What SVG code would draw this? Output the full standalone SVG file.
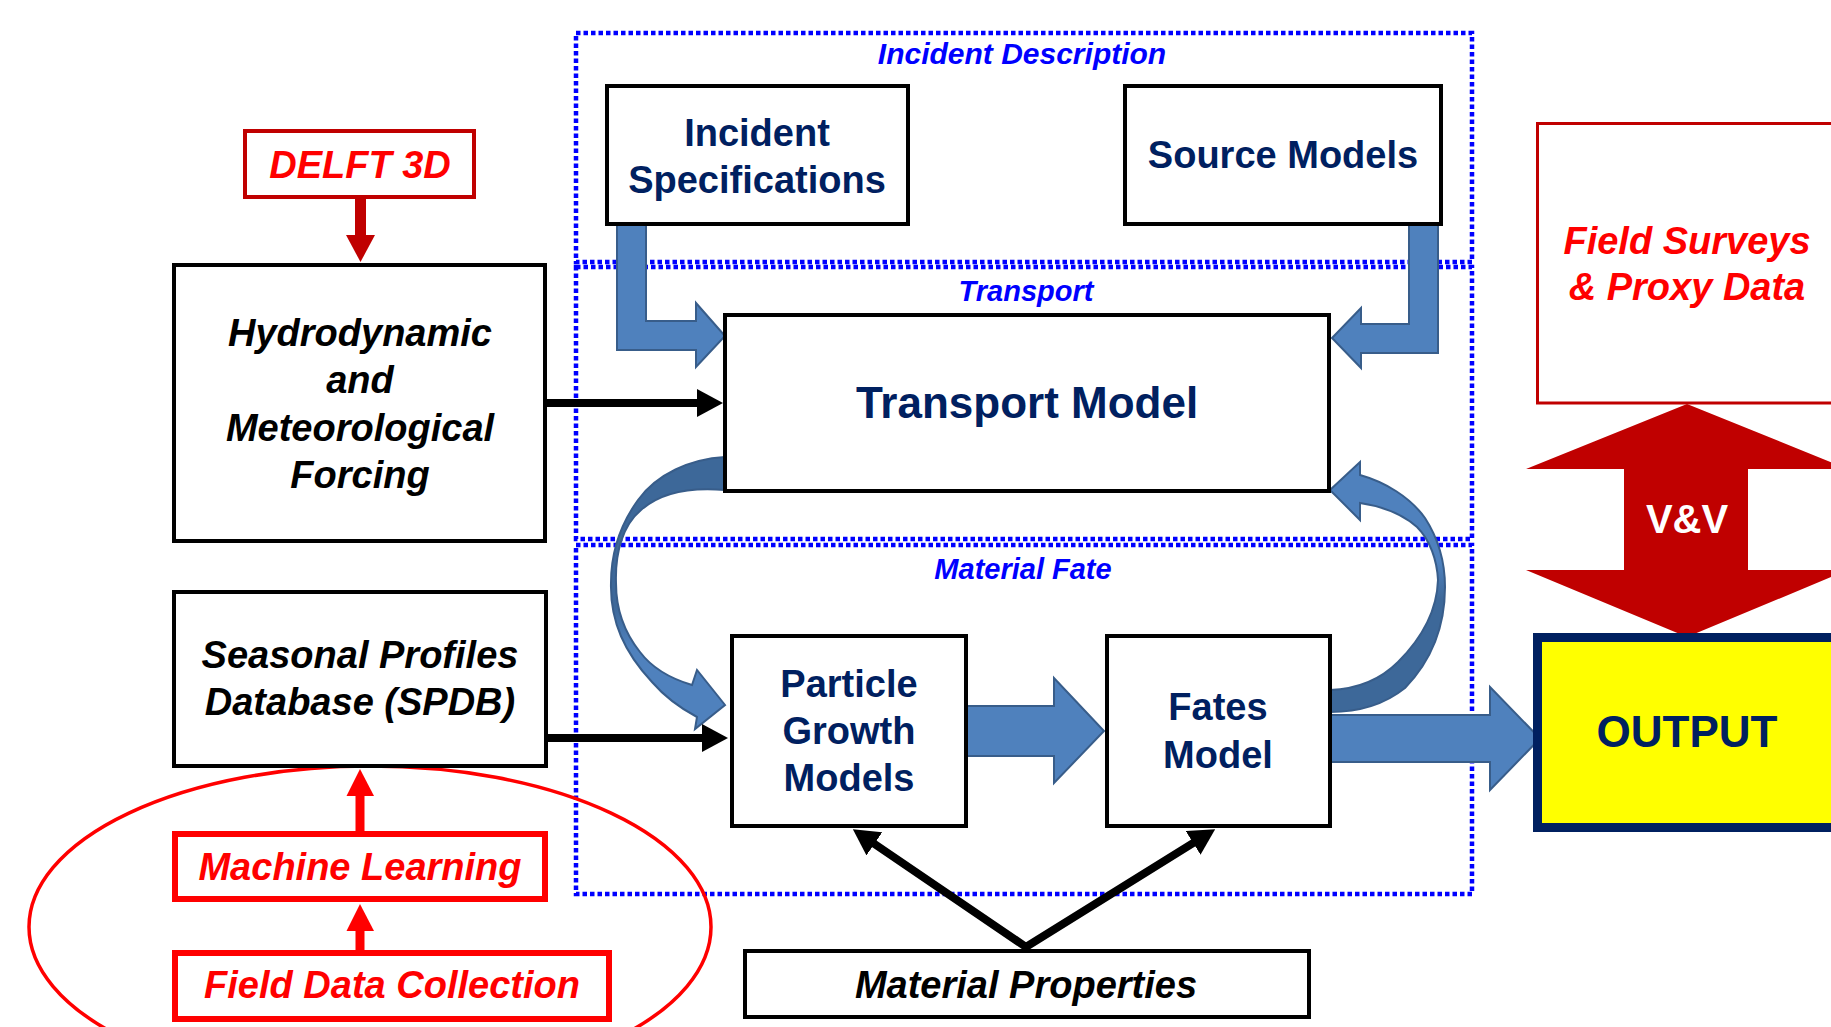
<svg xmlns="http://www.w3.org/2000/svg" width="1831" height="1027" viewBox="0 0 1831 1027">
<style>
.frame{fill:none;stroke:#0000FF;stroke-width:4.5;stroke-dasharray:4.5 3}
.ftitle{font-family:"Liberation Sans",Arial,sans-serif;font-weight:bold;font-style:italic;font-size:29px;fill:#0000FF;text-anchor:middle}
.box{fill:#FFFFFF;stroke:#000000;stroke-width:4}
.navy{font-family:"Liberation Sans",Arial,sans-serif;font-weight:bold;font-size:38px;fill:#002060;text-anchor:middle}
.blk{font-family:"Liberation Sans",Arial,sans-serif;font-weight:bold;font-style:italic;font-size:38px;fill:#000000;text-anchor:middle}
.red{font-family:"Liberation Sans",Arial,sans-serif;font-weight:bold;font-style:italic;font-size:38px;fill:#FF0000;text-anchor:middle}
.barrow{fill:#4F81BD;stroke:#385D8A;stroke-width:2;stroke-linejoin:miter}
.kline{fill:none;stroke:#000000;stroke-width:8}
</style>
<defs>
<marker id="ah" viewBox="0 0 26 28" refX="6" refY="14" markerWidth="26" markerHeight="28" markerUnits="userSpaceOnUse" orient="auto-start-reverse">
<path d="M0,0 L26,14 L0,28 Z" fill="#000000"/>
</marker>
<linearGradient id="g1" gradientUnits="userSpaceOnUse" x1="0" y1="457" x2="0" y2="729">
<stop offset="0" stop-color="#3D6899"/><stop offset="0.55" stop-color="#3D6899"/><stop offset="0.7" stop-color="#4F81BD"/><stop offset="1" stop-color="#4F81BD"/>
</linearGradient>
<linearGradient id="g2" gradientUnits="userSpaceOnUse" x1="0" y1="462" x2="0" y2="712">
<stop offset="0" stop-color="#4F81BD"/><stop offset="0.4" stop-color="#4F81BD"/><stop offset="0.55" stop-color="#3D6899"/><stop offset="1" stop-color="#3D6899"/>
</linearGradient>
</defs>
<rect width="1831" height="1027" fill="#FFFFFF"/>

<g id="frames">
<rect class="frame" x="576" y="33" width="896" height="229"/>
<rect class="frame" x="576" y="267" width="896" height="272"/>
<rect class="frame" x="576" y="545" width="896" height="349"/>
<text class="ftitle" x="1022" y="64" style="font-size:30px">Incident Description</text>
<text class="ftitle" x="1026" y="301">Transport</text>
<text class="ftitle" x="1023" y="579">Material Fate</text>
</g>

<g id="spdb-group">
<ellipse cx="370" cy="927" rx="341" ry="161" fill="none" stroke="#FF0000" stroke-width="3.5"/>
</g>

<g id="connectors">
<path d="M725,457 C690,459 657,474 638,500 C620,525 611,553 611,583 C610,622 625,653 652,682 C665,697 680,708 697,717 L695,729 L725,705 L697,670 L692,685 C672,679 652,668 640,652 C624,632 616,608 616,583 C615,552 623,525 641,510 C660,493 690,487 725,490 Z" fill="url(#g1)" stroke="#385D8A" stroke-width="2"/>
<path d="M1330,490 L1360,462 L1360,475 C1385,482 1410,497 1425,518 C1438,538 1445,562 1445,587 C1445,625 1432,660 1405,688 C1385,704 1360,712 1330,712 L1330,690 C1358,689 1380,680 1398,662 C1422,638 1437,610 1438,580 C1437,560 1430,540 1417,527 C1400,512 1380,506 1360,503 L1360,520 Z" fill="url(#g2)" stroke="#385D8A" stroke-width="2"/>
<polygon class="barrow" points="617,224 646,224 646,321 696,321 696,303 725,336 696,367 696,350 617,350"/>
<polygon class="barrow" points="1409,224 1438,224 1438,353 1361,353 1361,368 1332,338 1361,308 1361,324 1409,324"/>
<polygon class="barrow" points="966,706 1054,706 1054,678 1104,731 1054,783 1054,756 966,756"/>
<polygon class="barrow" points="1330,715 1490,715 1490,687 1540,738.5 1490,790 1490,762 1330,762"/>
<line class="kline" x1="547" y1="403" x2="703" y2="403" marker-end="url(#ah)"/>
<line class="kline" x1="547" y1="738" x2="708" y2="738" marker-end="url(#ah)"/>
<polyline class="kline" points="869.4,840.5 1026,947 1198.2,839.8" marker-start="url(#ah)" marker-end="url(#ah)"/>
<rect x="355" y="197" width="11" height="40" fill="#C00000"/>
<polygon points="346,235 375,235 360.5,262" fill="#C00000"/>
<rect x="355.5" y="793" width="9" height="40" fill="#FF0000"/>
<polygon points="346.5,796 374,796 360,769" fill="#FF0000"/>
<rect x="355.5" y="928" width="9" height="24" fill="#FF0000"/>
<polygon points="346.5,931 374,931 360,904" fill="#FF0000"/>
<polygon points="1687,404 1848,469 1748,469 1748,570 1848,570 1687,637 1526,570 1624,570 1624,469 1526,469" fill="#C00000"/>
</g>

<g id="incident-specifications">
<rect class="box" x="607" y="86" width="301" height="138"/>
<text class="navy" x="757" y="146">Incident</text>
<text class="navy" x="757" y="193">Specifications</text>
</g>
<g id="source-models">
<rect class="box" x="1125" y="86" width="316" height="138"/>
<text class="navy" x="1283" y="168">Source Models</text>
</g>
<g id="transport-model">
<rect class="box" x="725" y="315" width="604" height="176"/>
<text class="navy" x="1027" y="418" style="font-size:44px">Transport Model</text>
</g>
<g id="delft3d">
<rect x="245" y="131" width="229" height="66" fill="#FFFFFF" stroke="#C00000" stroke-width="4"/>
<text class="red" x="360" y="178">DELFT 3D</text>
</g>
<g id="hydrodynamic-forcing">
<rect class="box" x="174" y="265" width="371" height="276"/>
<text class="blk" x="360" y="346">Hydrodynamic</text>
<text class="blk" x="360" y="393">and</text>
<text class="blk" x="360" y="441">Meteorological</text>
<text class="blk" x="360" y="488">Forcing</text>
</g>
<g id="spdb">
<rect class="box" x="174" y="592" width="372" height="174"/>
<text class="blk" x="360" y="668">Seasonal Profiles</text>
<text class="blk" x="360" y="715">Database (SPDB)</text>
</g>
<g id="machine-learning">
<rect x="175" y="834" width="370" height="65" fill="#FFFFFF" stroke="#FF0000" stroke-width="6"/>
<text class="red" x="360" y="880">Machine Learning</text>
</g>
<g id="field-data-collection">
<rect x="175" y="953" width="434" height="66" fill="#FFFFFF" stroke="#FF0000" stroke-width="6"/>
<text class="red" x="392" y="998">Field Data Collection</text>
</g>
<g id="particle-growth-models">
<rect class="box" x="732" y="636" width="234" height="190"/>
<text class="navy" x="849" y="697">Particle</text>
<text class="navy" x="849" y="744">Growth</text>
<text class="navy" x="849" y="791">Models</text>
</g>
<g id="fates-model">
<rect class="box" x="1107" y="636" width="223" height="190"/>
<text class="navy" x="1218" y="720">Fates</text>
<text class="navy" x="1218" y="768">Model</text>
</g>
<g id="material-properties">
<rect class="box" x="745" y="951" width="564" height="66"/>
<text class="blk" x="1026" y="998">Material Properties</text>
</g>
<g id="field-surveys">
<rect x="1537.5" y="123.5" width="400" height="279.5" fill="#FFFFFF" stroke="#C00000" stroke-width="3"/>
<text class="red" x="1687" y="254">Field Surveys</text>
<text class="red" x="1687" y="300">&amp; Proxy Data</text>
</g>
<g id="vv-label">
<text x="1687" y="533" font-family="Liberation Sans, Arial, sans-serif" font-weight="bold" font-size="40" fill="#FFFFFF" text-anchor="middle">V&amp;V</text>
</g>
<g id="output">
<rect x="1537.5" y="637.5" width="400" height="190" fill="#FFFF00" stroke="#002060" stroke-width="9"/>
<text class="navy" x="1687" y="747" style="font-size:44px">OUTPUT</text>
</g>
</svg>
